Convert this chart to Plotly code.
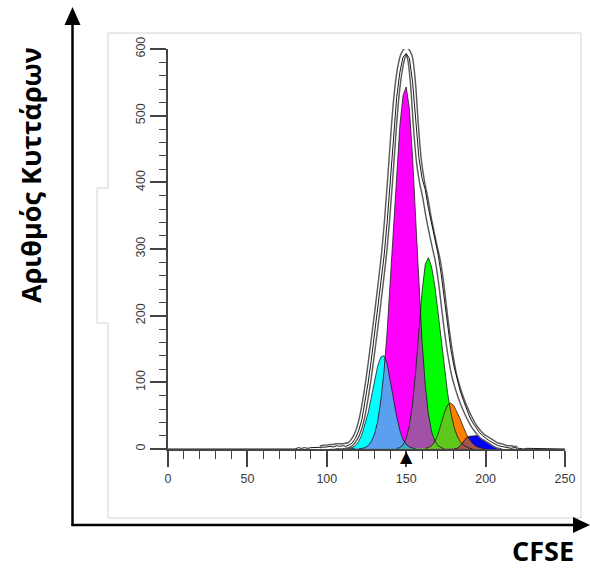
import plotly.graph_objects as go

# ---- data -----------------------------------------------------------------
# Channel spacing (CFSE channels) of the sampled curves below
STEP = 2

# Fitted generations: first channel and cell counts every STEP channels
RED_START = 96
RED_COUNTS = [0, 1, 2, 3, 4, 5, 5, 4, 3, 2, 1, 0]
CYAN_START = 114
CYAN_COUNTS = [1, 2, 5, 11, 21, 36, 54, 77, 102, 124, 138, 140, 128, 104, 75, 49,
               28, 14, 7, 3, 1, 0]
MAGENTA_START = 120
MAGENTA_COUNTS = [0, 1, 2, 5, 11, 22, 41, 72, 116, 176, 251, 334, 416, 485, 530,
                  543, 511, 439, 344, 246, 161, 96, 52, 26, 12, 5, 2, 0]
GREEN_START = 144
GREEN_COUNTS = [1, 2, 6, 16, 35, 68, 117, 177, 236, 277, 287, 273, 245, 206, 163,
                121, 85, 56, 34, 20, 11, 6, 3, 1, 0]
ORANGE_START = 162
ORANGE_COUNTS = [1, 2, 5, 11, 22, 38, 54, 66, 69, 65, 56, 45, 33, 22, 14, 8, 4, 2,
                 1, 0]
BLUE_START = 180
BLUE_COUNTS = [0, 1, 5, 12, 17, 19, 20, 20, 19, 17, 14, 11, 8, 5, 3, 2, 1, 0]

# Total model fit, channels 96..220
FIT_START = 96
FIT_COUNTS = [1, 2, 2, 3, 3, 4, 4, 4, 5, 6,
              10, 17, 28, 45, 70, 100, 135, 172, 210, 250,
              292, 345, 408, 475, 532, 569, 590, 598, 590, 556,
              488, 432, 400, 377, 349, 325, 303, 281, 249, 209,
              171, 139, 113, 95, 80, 67, 56, 46, 37, 30,
              24, 19, 16, 13, 10, 7, 5, 4, 2, 1,
              1, 0, 0]

# Acquired histogram, channels 0..250
RAW_START = 0
RAW_COUNTS = [0, 0, 0, 0, 0, 1, 0, 1, 0, 0,
              1, 1, 0, 0, 0, 0, 0, 0, 0, 0,
              0, 0, 0, 0, 0, 0, 0, 0, 0, 0,
              0, 1, 0, 0, 1, 0, 1, 0, 1, 1,
              0, 2, 1, 2, 1, 2, 2, 3, 2, 3,
              3, 4, 3, 5, 4, 5, 4, 6, 9, 16,
              27, 43, 69, 99, 133, 170, 207, 248, 288, 340,
              402, 469, 527, 565, 588, 593, 586, 551, 490, 437,
              406, 389, 361, 338, 314, 293, 263, 225, 184, 151,
              125, 105, 87, 73, 60, 48, 39, 31, 25, 20,
              16, 13, 10, 7, 5, 4, 3, 2, 1, 2,
              1, 1, 0, 1, 1, 0, 1, 0, 1, 1,
              0, 1, 0, 0, 0, 0]

# Parent generation marker position
PARENT_CHANNEL = 150.5

X_TICKS = [0, 50, 100, 150, 200, 250]
Y_TICKS = [0, 100, 200, 300, 400, 500, 600]

Y_TITLE = "Αριθμός Κυττάρων"
X_TITLE = "CFSE"

# ---- styling --------------------------------------------------------------
GENERATIONS = {
    "red": (RED_START, RED_COUNTS, "#ee1c1c"),
    "cyan": (CYAN_START, CYAN_COUNTS, "#00ffff"),
    "magenta": (MAGENTA_START, MAGENTA_COUNTS, "#ff00ff"),
    "green": (GREEN_START, GREEN_COUNTS, "#00ff00"),
    "orange": (ORANGE_START, ORANGE_COUNTS, "#ff8000"),
    "blue": (BLUE_START, BLUE_COUNTS, "#0000ff"),
}
# colour of the area shared by two neighbouring generations
OVERLAP_COLORS = [
    ("cyan", "magenta", "#5a9ff0"),
    ("magenta", "green", "#a152a6"),
    ("cyan", "green", "#3aa9c4"),
    ("green", "orange", "#5fc81d"),
    ("orange", "blue", "#a4544f"),
]


def channels(start, counts):
    return [start + STEP * i for i in range(len(counts))]


def shared_area(a, b):
    """Lower envelope of two sampled curves, with exact crossing points."""
    ga = dict(zip(channels(a[0], a[1]), a[1]))
    gb = dict(zip(channels(b[0], b[1]), b[1]))
    xs = sorted(set(ga) | set(gb))
    fa = [ga.get(x, 0) for x in xs]
    fb = [gb.get(x, 0) for x in xs]
    ox, oy = [], []
    for i, x in enumerate(xs):
        if i > 0:
            d0 = fa[i - 1] - fb[i - 1]
            d1 = fa[i] - fb[i]
            if d0 * d1 < 0:
                t = d0 / (d0 - d1)
                ox.append(xs[i - 1] + t * (x - xs[i - 1]))
                oy.append(fa[i - 1] + t * (fa[i] - fa[i - 1]))
        ox.append(x)
        oy.append(min(fa[i], fb[i]))
    return ox, oy


fig = go.Figure()

# generation fills
for name, (start, counts, color) in GENERATIONS.items():
    fig.add_trace(go.Scatter(
        x=channels(start, counts), y=counts, mode="lines", fill="tozeroy",
        fillcolor=color, line=dict(width=0, color=color), hoverinfo="skip"))

# overlapping parts of neighbouring generations
for a, b, color in OVERLAP_COLORS:
    ox, oy = shared_area(GENERATIONS[a][:2], GENERATIONS[b][:2])
    fig.add_trace(go.Scatter(
        x=ox, y=oy, mode="lines", fill="tozeroy", fillcolor=color,
        line=dict(width=0, color=color), hoverinfo="skip"))

# thin outlines of every generation
for name, (start, counts, color) in GENERATIONS.items():
    fig.add_trace(go.Scatter(
        x=channels(start, counts), y=counts, mode="lines",
        line=dict(width=0.9, color="rgba(20,20,20,0.85)"), hoverinfo="skip"))

# total fit drawn as an outlined tube
fit_x = channels(FIT_START, FIT_COUNTS)
fig.add_trace(go.Scatter(x=fit_x, y=FIT_COUNTS, mode="lines",
                         line=dict(width=6.5, color="#5c5c5c", shape="spline"),
                         hoverinfo="skip"))
fig.add_trace(go.Scatter(x=fit_x, y=FIT_COUNTS, mode="lines",
                         line=dict(width=3.6, color="white", shape="spline"),
                         hoverinfo="skip"))

# acquired histogram
fig.add_trace(go.Scatter(x=channels(RAW_START, RAW_COUNTS), y=RAW_COUNTS,
                         mode="lines", line=dict(width=0.9, color="black"),
                         hoverinfo="skip"))

# ---- layout -----------------------------------------------------------------
W, H = 590, 572
L, R, T, B = 168, 25, 49, 123
PW, PH = W - L - R, H - T - B


def fx(px):
    return (px - L) / PW


def fy(py):
    return (H - B - py) / PH


tick_font = dict(family="Liberation Sans, Arial, sans-serif", size=12.5,
                 color="#3a3a3a")
axis_col = "#444444"

fig.update_xaxes(range=[0, 250], tickvals=X_TICKS, ticks="outside", ticklen=16,
                 tickwidth=1.6, tickcolor=axis_col, showline=True, linecolor=axis_col,
                 linewidth=1.6, showgrid=False, zeroline=False, tickfont=tick_font,
                 ticklabelstandoff=1,
                 minor=dict(tick0=0, dtick=10, ticklen=8, tickwidth=1.3,
                            tickcolor=axis_col, ticks="outside", showgrid=False))
fig.update_yaxes(range=[0, 600], tickvals=Y_TICKS, ticks="outside", ticklen=16,
                 tickwidth=1.6, tickcolor=axis_col, showline=True, linecolor=axis_col,
                 linewidth=1.6, showgrid=False, zeroline=False, tickfont=tick_font,
                 tickangle=-90,
                 minor=dict(tick0=0, dtick=20, ticklen=7, tickwidth=1.3,
                            tickcolor=axis_col, ticks="outside", showgrid=False))

frame = [(108, 33), (581, 33), (581, 518), (108, 518), (108, 323), (97, 323),
         (97, 188), (108, 188)]
frame_path = "M " + " L ".join(f"{fx(x):.5f},{fy(y):.5f}" for x, y in frame) + " Z"

shapes = [
    dict(type="path", xref="paper", yref="paper", path=frame_path,
         line=dict(color="#d4d4d4", width=1), layer="below"),
    # outer axes with arrow heads
    dict(type="line", xref="paper", yref="paper", x0=fx(72.5), x1=fx(72.5),
         y0=fy(526), y1=fy(20), line=dict(color="black", width=2.5)),
    dict(type="line", xref="paper", yref="paper", x0=fx(71.5), x1=fx(578),
         y0=fy(525), y1=fy(525), line=dict(color="black", width=2.5)),
    dict(type="path", xref="paper", yref="paper",
         path=f"M {fx(72.5)},{fy(7)} L {fx(80.5)},{fy(25)} L {fx(64.5)},{fy(25)} Z",
         fillcolor="black", line=dict(width=0)),
    dict(type="path", xref="paper", yref="paper",
         path=f"M {fx(590)},{fy(525)} L {fx(573)},{fy(517)} L {fx(573)},{fy(533)} Z",
         fillcolor="black", line=dict(width=0)),
]

annotations = [
    dict(text=Y_TITLE, xref="paper", yref="paper", x=fx(31), y=fy(175),
         textangle=-90, showarrow=False, xanchor="center", yanchor="middle",
         font=dict(family="Open Sans, sans-serif", size=27, color="black",
                   weight="bold")),
    dict(text=X_TITLE, xref="paper", yref="paper", x=fx(543), y=fy(571),
         showarrow=False, xanchor="center", yanchor="bottom",
         font=dict(family="Open Sans, sans-serif", size=27, color="black",
                   weight="bold")),
    # parent generation marker just under the channel axis
    dict(text="▲", xref="x", yref="paper", x=PARENT_CHANNEL, y=fy(456),
         showarrow=False, xanchor="center", yanchor="middle",
         font=dict(family="DejaVu Sans, sans-serif", size=16, color="black")),
]

fig.update_layout(width=W, height=H, margin=dict(l=L, r=R, t=T, b=B),
                  paper_bgcolor="white", plot_bgcolor="white", showlegend=False,
                  shapes=shapes, annotations=annotations)

fig.write_html("out.html")
